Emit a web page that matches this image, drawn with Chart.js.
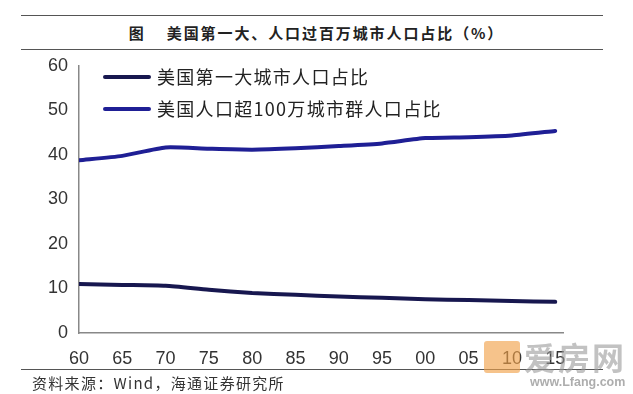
<!DOCTYPE html>
<html>
<head>
<meta charset="utf-8">
<script src="https://cdn.jsdelivr.net/npm/chart.js@4.4.1/dist/chart.umd.min.js"></script>
<style>
  html, body { margin: 0; padding: 0; background: #fff; }
  #wrap { position: relative; width: 633px; height: 394px; overflow: hidden; background: #fff; }
  #c { position: absolute; left: 0; top: 0; }
  .rule { position: absolute; left: 21px; width: 582px; height: 0; border-top: 1.5px solid #555; }
  #title { position: absolute; left: 0; width: 633px; top: 22px; text-align: center; font-family: "Noto Sans CJK SC", sans-serif; font-size: 15px; font-weight: 600; color: #222; letter-spacing: 1.9px; white-space: pre; }
  #source { position: absolute; left: 32px; top: 372px; font-family: "Noto Sans CJK SC", sans-serif; font-size: 15px; color: #333; letter-spacing: 1.3px; white-space: pre; }
  #legend { position: absolute; left: 103px; top: 63px; font-family: "Noto Sans CJK SC", sans-serif; font-size: 18px; color: #222; }
  .li { position: relative; height: 32px; line-height: 26px; white-space: nowrap; letter-spacing: 1.3px; }
  .sw { display: inline-block; width: 48px; height: 4px; border-radius: 2px; vertical-align: middle; margin-right: 6px; position: relative; top: -2px; }
  #wm { position: absolute; left: 484px; top: 333px; width: 149px; height: 60px; opacity: 0.85; }
  #wm .box { position: absolute; left: 0; top: 8px; width: 36px; height: 32px; background: #f0a04a; border-radius: 3px; opacity: 0.75; }
  #wm .name { position: absolute; left: 40px; top: 0px; font-family: "Noto Sans CJK SC", sans-serif; font-size: 32px; font-weight: bold; color: #9a9a9a; letter-spacing: 2px; opacity: 0.7; }
  #wm .url { position: absolute; left: 46px; top: 42px; font-family: Arial, "Liberation Sans", sans-serif; font-size: 12.5px; font-weight: bold; color: #888; opacity: 0.8; }
</style>
</head>
<body>
<div id="wrap">
  <div class="rule" style="top:15px"></div>
  <div id="title">图    美国第一大、人口过百万城市人口占比（%）</div>
  <div class="rule" style="top:49px"></div>
  <canvas id="c" width="633" height="394"></canvas>
  <div id="legend"></div>
  <div class="rule" style="top:369px"></div>
  <div id="source">资料来源：Wind，海通证券研究所</div>
  <div id="wm"><div class="box"></div><div class="name">爱房网</div><div class="url">www.Lfang.com</div></div>
</div>
<script>
const years = [1960, 1965, 1970, 1975, 1980, 1985, 1990, 1995, 2000, 2005, 2010, 2015];
const tickLabels = ["60", "65", "70", "75", "80", "85", "90", "95", "00", "05", "10", "15"];
const seriesNames = ["美国第一大城市人口占比", "美国人口超100万城市群人口占比"];
const largestCityShare = [11.0, 10.8, 10.6, 9.7, 9.0, 8.6, 8.2, 7.9, 7.6, 7.4, 7.2, 7.0];
const millionMetroShare = [38.8, 39.8, 41.7, 41.4, 41.2, 41.5, 42.0, 42.6, 43.8, 44.0, 44.4, 45.4];
const seriesColors = ["#17174f", "#1f1f95"];

const datasets = [largestCityShare, millionMetroShare].map((vals, i) => ({
  label: seriesNames[i],
  data: vals.map((v, j) => ({ x: years[j], y: v })),
  borderColor: seriesColors[i],
  backgroundColor: seriesColors[i],
  borderWidth: 4,
  pointRadius: 0,
  tension: 0.2,
  borderCapStyle: 'round',
  borderJoinStyle: 'round',
  fill: false
}));

const leg = document.getElementById('legend');
datasets.forEach(d => {
  const row = document.createElement('div');
  row.className = 'li';
  const sw = document.createElement('span');
  sw.className = 'sw';
  sw.style.background = d.borderColor;
  row.appendChild(sw);
  row.appendChild(document.createTextNode(d.label));
  leg.appendChild(row);
});

new Chart(document.getElementById('c'), {
  type: 'line',
  data: { datasets },
  options: {
    responsive: false,
    animation: false,
    layout: { padding: { left: 0, right: 70, top: 66, bottom: 21 } },
    plugins: { legend: { display: false }, title: { display: false }, tooltip: { enabled: false } },
    scales: {
      x: {
        type: 'linear',
        min: 1960,
        max: 2015.9,
        afterBuildTicks: (axis) => { axis.ticks = years.map(v => ({ value: v })); },
        afterFit: (axis) => { axis.height = 40; },
        grid: { display: false, drawOnChartArea: false, drawTicks: true, tickLength: 5, tickColor: '#777' },
        border: { display: true, color: '#888', width: 1.5 },
        ticks: {
          autoSkip: false,
          maxRotation: 0,
          padding: 10,
          color: '#333',
          font: { family: 'Arial, "Liberation Sans", sans-serif', size: 18 },
          callback: (v) => { const i = years.indexOf(v); return i >= 0 ? tickLabels[i] : ''; }
        }
      },
      y: {
        min: 0,
        max: 60,
        afterFit: (axis) => { axis.width = 79; },
        grid: { display: false, drawOnChartArea: false, drawTicks: true, tickLength: 5, tickColor: '#777' },
        border: { display: true, color: '#888', width: 1.5 },
        ticks: {
          stepSize: 10,
          padding: 6,
          color: '#333',
          font: { family: 'Arial, "Liberation Sans", sans-serif', size: 18 }
        }
      }
    }
  }
});
</script>
</body>
</html>
